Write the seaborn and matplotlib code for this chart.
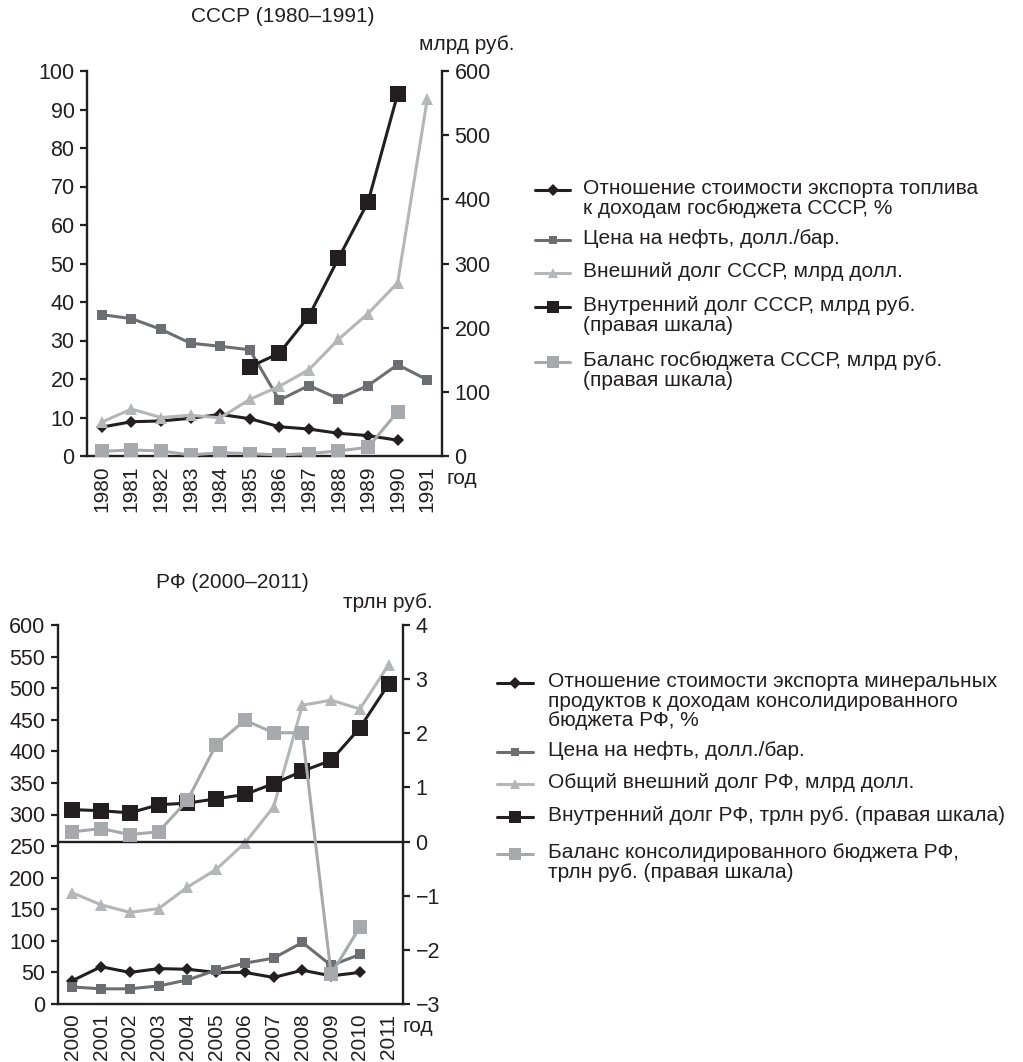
import numpy as np
import pandas as pd
import matplotlib
matplotlib.use("Agg")
import matplotlib.pyplot as plt
import seaborn as sns
from matplotlib.lines import Line2D

nan = np.nan

# ---------------- data: USSR ----------------
years_su = [str(y) for y in range(1980, 1992)]
su_export_ratio = [7.5, 8.9, 9.1, 9.8, 10.8, 9.7, 7.6, 7.0, 5.9, 5.3, 4.1, nan]
su_oil_price = [36.7, 35.7, 32.9, 29.3, 28.5, 27.6, 14.5, 18.3, 14.9, 18.3, 23.7, 19.8]
su_ext_debt = [8.8, 12.2, 10.0, 10.6, 9.9, 14.7, 18.1, 22.4, 30.3, 37.0, 45.0, 92.6]
su_int_debt = [nan, nan, nan, nan, nan, 139, 160, 218, 308, 396, 564, nan]
su_balance = [7.3, 9.4, 7.9, 1.6, 5.2, 3.7, 1.6, 3.7, 7.9, 13.5, 69.0, nan]

# ---------------- data: Russia ----------------
years_ru = [str(y) for y in range(2000, 2012)]
ru_export_ratio = [37, 59, 50, 56, 55, 50, 50, 42, 53.5, 44.5, 50, nan]
ru_oil_price = [27, 24, 24, 28.6, 38, 53.5, 64.6, 72.6, 97.5, 61, 78.4, nan]
ru_ext_debt = [176, 157, 145, 151, 185, 213, 255, 312, 473, 481, 467, 537]
ru_int_debt = [0.59, 0.57, 0.53, 0.68, 0.71, 0.79, 0.87, 1.07, 1.30, 1.50, 2.10, 2.91]
ru_balance = [0.18, 0.24, 0.13, 0.18, 0.76, 1.79, 2.24, 2.01, 2.01, -2.45, -1.58, nan]

su_labels = [
    "Отношение стоимости экспорта топлива\nк доходам госбюджета СССР, %",
    "Цена на нефть, долл./бар.",
    "Внешний долг СССР, млрд долл.",
    "Внутренний долг СССР, млрд руб.\n(правая шкала)",
    "Баланс госбюджета СССР, млрд руб.\n(правая шкала)",
]
ru_labels = [
    "Отношение стоимости экспорта минеральных\nпродуктов к доходам консолидированного\nбюджета РФ, %",
    "Цена на нефть, долл./бар.",
    "Общий внешний долг РФ, млрд долл.",
    "Внутренний долг РФ, трлн руб. (правая шкала)",
    "Баланс консолидированного бюджета РФ,\nтрлн руб. (правая шкала)",
]

sns.set_style("ticks")
plt.rcParams["font.family"] = ["Liberation Sans", "DejaVu Sans"]
plt.rcParams["font.size"] = 15

FS_TICK = 15.5
FS_XTICK = 15
FS_TEXT = 15

BLACK = "#231f20"
DGRAY = "#6d6e71"
LGRAY_T = "#b5b6b8"
LGRAY_S = "#a7a9ac"

styles = [
    dict(color=BLACK, marker="D", markersize=6.5, lw=2.2),
    dict(color=DGRAY, marker="s", markersize=7.5, lw=2.2),
    dict(color=LGRAY_T, marker="^", markersize=8.5, lw=2.2),
    dict(color=BLACK, marker="s", markersize=11, lw=2.2),
    dict(color=LGRAY_S, marker="s", markersize=10.5, lw=2.2),
]

W, H = 1023, 1062
fig = plt.figure(figsize=(W / 100, H / 100), dpi=100)


def fx(px):
    return px / W


def fy(py):
    return 1 - py / H


def draw_chart(rect, years, left_series, right_series, ylim, yticks, ylim2, yticks2):
    ax = fig.add_axes(rect)
    ax2 = ax.twinx()
    n = len(years)
    xs = np.arange(n)
    df = pd.DataFrame({"x": xs})
    for i, s in enumerate(left_series):
        df["l%d" % i] = s
    for i, s in enumerate(right_series):
        df["r%d" % i] = s
    for i in range(len(left_series)):
        st = styles[i]
        sns.lineplot(data=df, x="x", y="l%d" % i, ax=ax, color=st["color"], marker=st["marker"],
                     markersize=st["markersize"], linewidth=st["lw"], markeredgewidth=0)
    for i in range(len(right_series)):
        st = styles[3 + i]
        sns.lineplot(data=df, x="x", y="r%d" % i, ax=ax2, color=st["color"], marker=st["marker"],
                     markersize=st["markersize"], linewidth=st["lw"], markeredgewidth=0)
    for a in (ax, ax2):
        a.set_xlabel("")
        a.set_ylabel("")
        a.set_xlim(-0.5, n - 0.5)
        a.spines["top"].set_visible(False)
    ax.spines["right"].set_visible(False)
    ax2.spines["left"].set_visible(False)
    ax2.spines["bottom"].set_visible(False)
    for sp in ("left", "bottom"):
        ax.spines[sp].set_linewidth(1.7)
        ax.spines[sp].set_color(BLACK)
    ax2.spines["right"].set_linewidth(1.7)
    ax2.spines["right"].set_color(BLACK)

    ax.set_ylim(*ylim)
    ax.set_yticks(yticks)
    ax2.set_ylim(*ylim2)
    ax2.set_yticks(yticks2)
    ax2.set_yticklabels([str(v).replace("-", "\u2212") for v in yticks2])

    ax.set_xticks(np.arange(-0.5, n, 1.0))
    ax.set_xticklabels([])
    ax.set_xticks(xs, minor=True)
    ax.set_xticklabels(years, minor=True, rotation=90)
    ax.tick_params(axis="x", which="major", length=6, width=1.6, direction="out", color=BLACK)
    ax.tick_params(axis="x", which="minor", length=0, pad=7, labelsize=FS_XTICK, colors=BLACK)
    ax.tick_params(axis="y", length=5, width=1.6, direction="out", labelsize=FS_TICK, pad=4, colors=BLACK)
    ax2.tick_params(axis="y", length=5, width=1.6, direction="out", labelsize=FS_TICK, pad=4, colors=BLACK)
    ax2.set_xticks([])
    return ax, ax2


def draw_legend(x0, x1, xt, entries):
    for (ycenter, label), st in zip(entries, styles):
        xm = (x0 + x1) / 2
        fig.add_artist(Line2D([fx(x0), fx(x1)], [fy(ycenter), fy(ycenter)], transform=fig.transFigure,
                              color=st["color"], lw=st["lw"]))
        ms = st["markersize"] * (0.8 if st["marker"] != "D" else 0.95)
        fig.add_artist(Line2D([fx(xm)], [fy(ycenter)], transform=fig.transFigure, color=st["color"],
                              marker=st["marker"], markersize=ms, markeredgewidth=0, lw=0))
        fig.text(fx(xt), fy(ycenter - 11), label, ha="left", va="top", fontsize=FS_TEXT, color=BLACK,
                 linespacing=1.05)


# ---------------- top chart: USSR ----------------
ax_a, ax_a2 = draw_chart([fx(87), fy(456), fx(442) - fx(87), fy(71) - fy(456)], years_su,
                         [su_export_ratio, su_oil_price, su_ext_debt], [su_int_debt, su_balance],
                         (0, 100), list(range(0, 101, 10)), (0, 600), list(range(0, 601, 100)))
fig.text(fx(283), fy(17), "СССР (1980–1991)", ha="center", va="center", fontsize=FS_TEXT, color=BLACK)
fig.text(fx(467), fy(45), "млрд руб.", ha="center", va="center", fontsize=FS_TEXT, color=BLACK)
fig.text(fx(447), fy(479), "год", ha="left", va="center", fontsize=FS_TEXT, color=BLACK)
draw_legend(535, 570, 583, list(zip([190, 240, 273, 307, 362], su_labels)))

# ---------------- bottom chart: Russia ----------------
ax_b, ax_b2 = draw_chart([fx(58), fy(1004), fx(403) - fx(58), fy(625) - fy(1004)], years_ru,
                         [ru_export_ratio, ru_oil_price, ru_ext_debt], [ru_int_debt, ru_balance],
                         (0, 600), list(range(0, 601, 50)), (-3, 4), list(range(-3, 5)))
ax_b2.axhline(0, color=BLACK, lw=1.7, zorder=0.5)
fig.text(fx(232), fy(583), "РФ (2000–2011)", ha="center", va="center", fontsize=FS_TEXT, color=BLACK)
fig.text(fx(388), fy(603), "трлн руб.", ha="center", va="center", fontsize=FS_TEXT, color=BLACK)
fig.text(fx(403), fy(1026), "год", ha="left", va="center", fontsize=FS_TEXT, color=BLACK)
draw_legend(497, 533, 548, list(zip([683, 752, 784, 817, 854], ru_labels)))

fig.savefig("out.png", dpi=100)
